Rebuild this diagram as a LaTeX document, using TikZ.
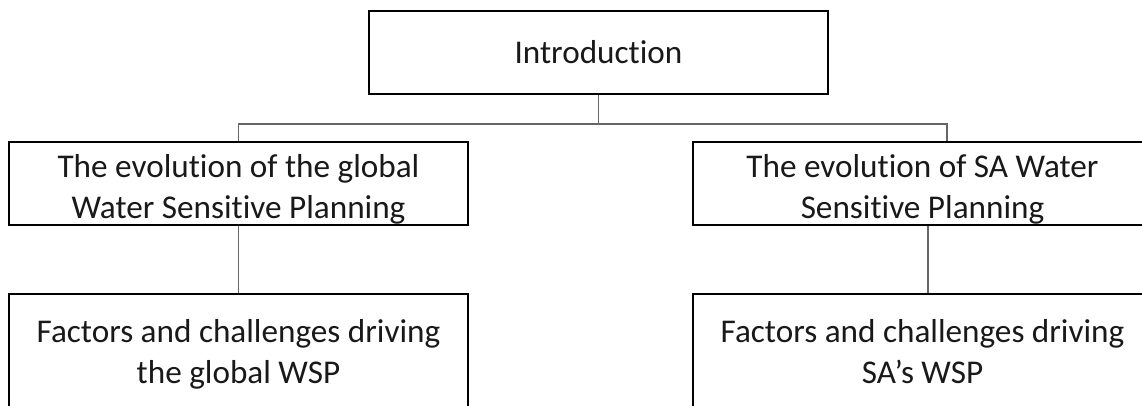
\documentclass[tikz,border=0pt]{standalone}
\usepackage{fontspec}
\setmainfont{Carlito}[Ligatures={NoCommon}]
\begin{document}
\begin{tikzpicture}[x=1pt,y=-1pt,
  box/.style={draw=black, line width=2pt, fill=white, minimum width=459pt, inner sep=0pt},
  txt/.style={align=center, font=\fontsize{33.2}{40.5}\selectfont, inner sep=0pt, anchor=base, text=black!90},
  conn/.style={draw=black!60, line width=1.2pt}]
\useasboundingbox (0,0) rectangle (1142,405);
\clip (0,0) rectangle (1142,405);
% connectors
\coordinate (jl) at (238.5,124);
\coordinate (jr) at (947,124);
% boxes
\node[box, minimum width=459pt, minimum height=83pt] (intro) at (598.5,52.5) {};
\node[box, minimum height=83pt] (evo) at (238.5,183.5) {};
\node[box, minimum height=83pt] (evosa) at (922.5,183.5) {};
\node[box, minimum height=140pt] (fac) at (238.5,364) {};
\node[box, minimum height=140pt] (facsa) at (922.5,364) {};
\draw[conn] (intro.south) -- (intro.south |- jl);
\draw[conn] (evo.north) |- (jr) -- (jr |- evosa.north);
\draw[conn] (evo.south) -- (fac.north);
\draw[conn] ([xshift=5.5pt]evosa.south) -- ([xshift=5.5pt]facsa.north);
% texts
\node[txt] (tintro) at (598.5,63) {Introduction};
\node[txt] (tevo) at (238.5,218) {The evolution of the global\\Water Sensitive Planning};
\node[txt] (tevosa) at (922.5,218) {The evolution of SA Water\\Sensitive Planning};
\node[txt] (tfac) at (238.5,383) {Factors and challenges driving\\the global WSP};
\node[txt] (tfacsa) at (922.5,383) {Factors and challenges driving\\SA’s WSP};
\end{tikzpicture}
\end{document}
